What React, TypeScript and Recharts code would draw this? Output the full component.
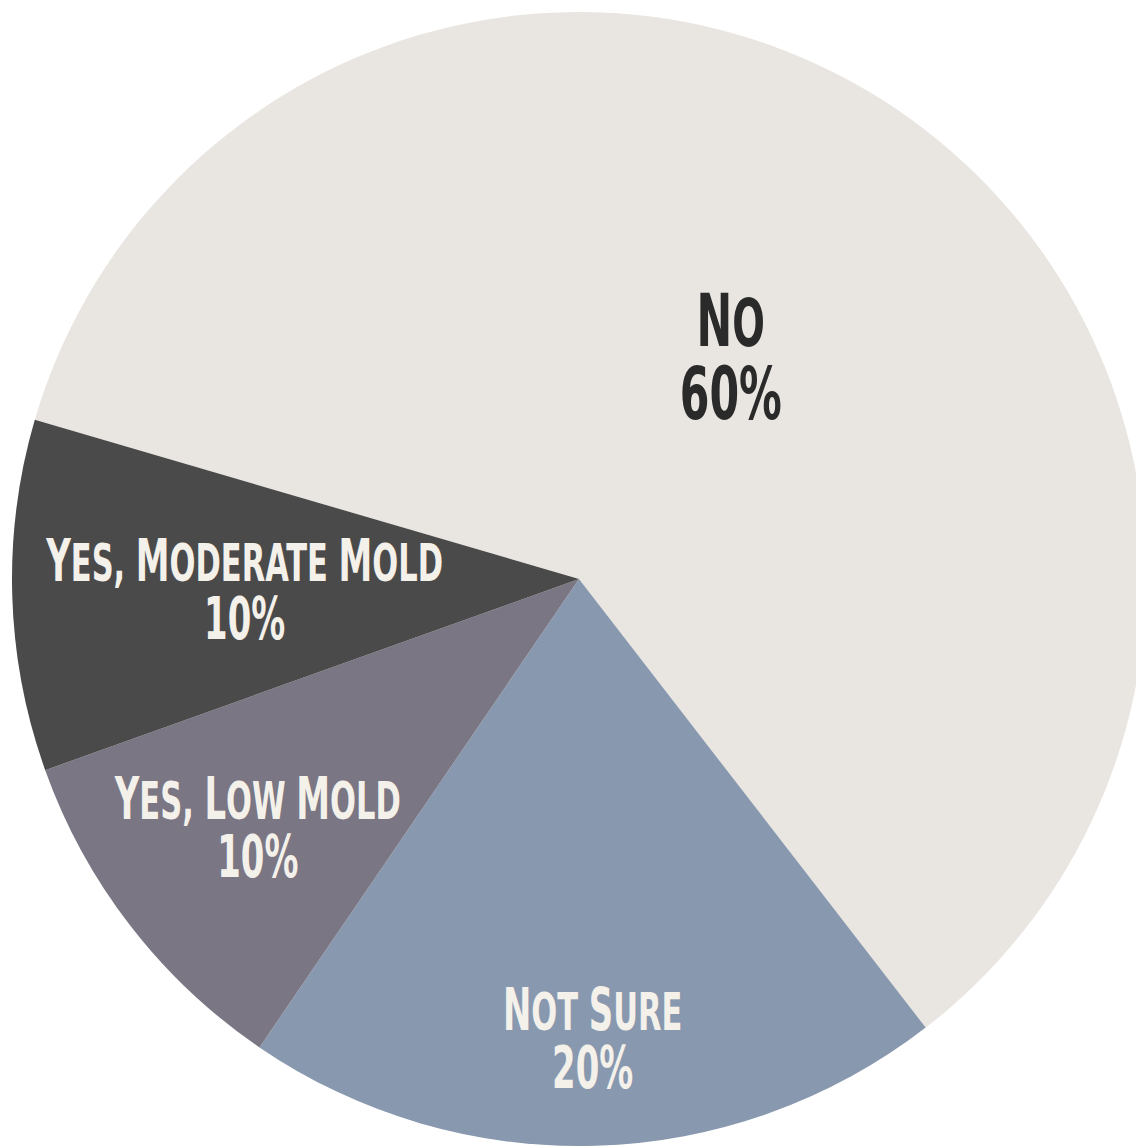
import React from 'react';
import { PieChart, Pie, Cell } from 'recharts';

// survey answers, clockwise from the "No" slice
const categories = ['No', 'Not Sure', 'Yes, Low Mold', 'Yes, Moderate Mold'];
const shares = [60, 20, 10, 10];

const sliceColors = ['#e9e6e1', '#8898ae', '#7a7684', '#4a4a4a'];
const labelColors = ['#2a2a2a', '#f4f0ea', '#f4f0ea', '#f4f0ea'];
// label placement as a fraction of the radius, and font sizes
const labelRadius = [0.475, 0.81, 0.716, 0.59];
const labelSize = [73, 58, 58, 58];

const data = categories.map((name, i) => ({ name, value: shares[i] }));

const RADIAN = Math.PI / 180;
const SQUEEZE = 0.65; // condensed display face look
const FONT = "'DejaVu Sans Condensed', 'Liberation Sans Narrow', sans-serif";

// fake small caps: first letter of each word full size, rest a bit smaller
const smallCaps = (text: string, size: number) => {
  const out: React.ReactNode[] = [];
  text.split(' ').forEach((word, w) => {
    if (w > 0) out.push(<tspan key={`s${w}`} fontSize={size * 0.9}> </tspan>);
    out.push(<tspan key={`a${w}`} fontSize={size}>{word[0].toUpperCase()}</tspan>);
    if (word.length > 1)
      out.push(
        <tspan key={`b${w}`} fontSize={size * 0.9}>
          {word.slice(1).toUpperCase()}
        </tspan>
      );
  });
  return out;
};

const renderLabel = (props: any) => {
  const { cx, cy, midAngle, outerRadius, index } = props;
  const r = outerRadius * labelRadius[index];
  const x = cx + r * Math.cos(-midAngle * RADIAN);
  const y = cy + r * Math.sin(-midAngle * RADIAN);
  const f = labelSize[index];
  const base1 = y - 0.14 * f;
  const base2 = base1 + f;
  return (
    <g transform={`translate(${x},0) scale(${SQUEEZE},1) translate(${-x},0)`}>
      <text
        x={x}
        y={base1}
        textAnchor="middle"
        fill={labelColors[index]}
        fontFamily={FONT}
        fontWeight="bold"
        fontSize={f}
      >
        {smallCaps(categories[index], f)}
      </text>
      <text
        x={x}
        y={base2}
        textAnchor="middle"
        fill={labelColors[index]}
        fontFamily={FONT}
        fontWeight="bold"
        fontSize={f}
      >
        {`${shares[index]}%`}
      </text>
    </g>
  );
};

export default function App() {
  return (
    <div style={{ position: 'fixed', left: 0, top: 0, width: 1136, height: 1146, background: '#ffffff' }}>
      <PieChart width={1136} height={1146} margin={{ top: 0, right: 0, bottom: 0, left: 0 }}>
        <Pie
          data={data}
          dataKey="value"
          nameKey="name"
          cx={579}
          cy={579}
          outerRadius={567}
          startAngle={163.7}
          endAngle={-196.3}
          stroke="none"
          label={renderLabel}
          labelLine={false}
          isAnimationActive={false}
        >
          {data.map((d, i) => (
            <Cell key={d.name} fill={sliceColors[i]} />
          ))}
        </Pie>
      </PieChart>
    </div>
  );
}
